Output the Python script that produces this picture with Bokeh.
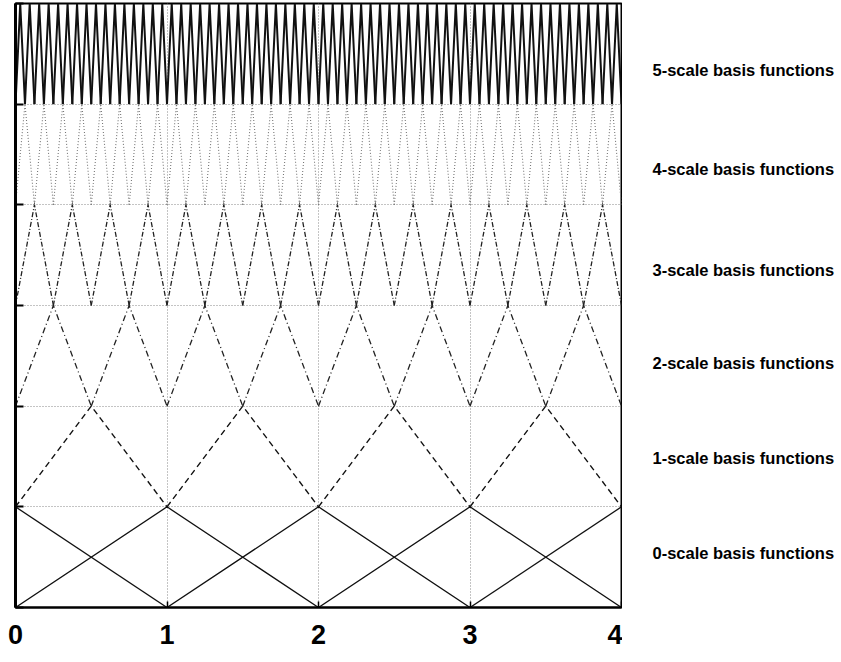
import numpy as np
from bokeh.plotting import figure
from bokeh.layouts import row
from bokeh.models import Range1d, FixedTicker, LinearAxis
from bokeh.core.properties import value
from bokeh.embed import file_html
from bokeh.resources import INLINE

# ---- data ----
scales = [0, 1, 2, 3, 4, 5]
scale_labels = ["0-scale basis functions", "1-scale basis functions",
                "2-scale basis functions", "3-scale basis functions",
                "4-scale basis functions", "5-scale basis functions"]
x_ticks = [0, 1, 2, 3, 4]
x_tick_labels = ["0", "1", "2", "3", "4"]
domain = [0, 4]

# ---- styles ----
dashes = ["solid", "6 4", "6 3 1 3", "5 2 1 2", "1 2", "solid"]
colors = ["#111111", "#111111", "#222222", "#222222", "#777777", "#111111"]
widths = [1.3, 1.4, 1.3, 1.3, 1.1, 2.0]
label_dy = [0.54, 0.49, 0.43, 0.35, 0.36, 0.34]

TOP, BOTTOM = 3, 50
H = 657

p = figure(width=622, height=H, output_backend="svg", toolbar_location=None,
           x_range=Range1d(domain[0], domain[1]), y_range=Range1d(0, len(scales)),
           x_axis_location=None, y_axis_location=None,
           min_border_left=15, min_border_right=1, min_border_top=TOP,
           min_border_bottom=BOTTOM)
p.background_fill_color = "white"
p.border_fill_color = "white"
p.outline_line_color = "black"
p.outline_line_width = 2

# grid
p.xgrid.ticker = FixedTicker(ticks=[1, 2, 3])
p.ygrid.ticker = FixedTicker(ticks=[1, 2, 3, 4, 5])
for g in (p.xgrid, p.ygrid):
    g.grid_line_color = "#888888"
    g.grid_line_dash = "1 2"
    g.grid_line_width = 1

# axes
xa = LinearAxis(ticker=FixedTicker(ticks=x_ticks),
                major_label_overrides={t: s for t, s in zip(x_ticks, x_tick_labels)})
xa.major_tick_in = 6
xa.major_tick_out = 0
xa.minor_tick_line_color = None
xa.axis_line_width = 2
xa.major_tick_line_width = 1.5
xa.major_label_standoff = 17
xa.major_label_text_font = "Liberation Sans"
xa.major_label_text_font_style = "bold"
xa.major_label_text_font_size = "27px"
xa.major_label_text_color = "black"
p.add_layout(xa, "below")

ya = LinearAxis(ticker=FixedTicker(ticks=[0, 1, 2, 3, 4, 5, 6]),
                major_label_overrides={t: "" for t in range(7)})
ya.major_tick_in = 8
ya.major_tick_out = 0
ya.major_tick_line_width = 2
ya.minor_tick_line_color = None
ya.axis_line_width = 3
ya.major_label_standoff = 0
p.add_layout(ya, "left")

# basis functions
for j in scales:
    h = 2.0 ** (-j)
    if j == 0:
        centers = np.arange(domain[0], domain[1] + 0.5 * h, h)
    else:
        centers = np.arange(domain[0] + h, domain[1], 2 * h)
    xs, ys = [], []
    for c in centers:
        x = [max(c - h, domain[0]), c, min(c + h, domain[1])]
        y = [j + 1 - abs(v - c) / h for v in x]
        xs.append(x)
        ys.append(y)
    p.multi_line(xs, ys, line_color=colors[j], line_width=widths[j],
                 line_dash=dashes[j], line_join="miter")

# label panel
q = figure(width=216, height=H, output_backend="svg", toolbar_location=None,
           x_range=Range1d(0, 1), y_range=p.y_range,
           x_axis_location=None, y_axis_location=None,
           min_border_left=0, min_border_right=0, min_border_top=TOP,
           min_border_bottom=BOTTOM)
q.outline_line_color = None
q.xgrid.visible = False
q.ygrid.visible = False
q.text(x=[30 / 216] * len(scales), y=[j + label_dy[j] for j in scales],
       text=scale_labels,
       text_font=value("Liberation Sans"),
       text_font_style="bold", text_font_size="16.5px",
       text_baseline="middle", text_align="left", text_color="black")

layout = row(p, q)
open("out.html", "w").write(file_html(layout, INLINE))
